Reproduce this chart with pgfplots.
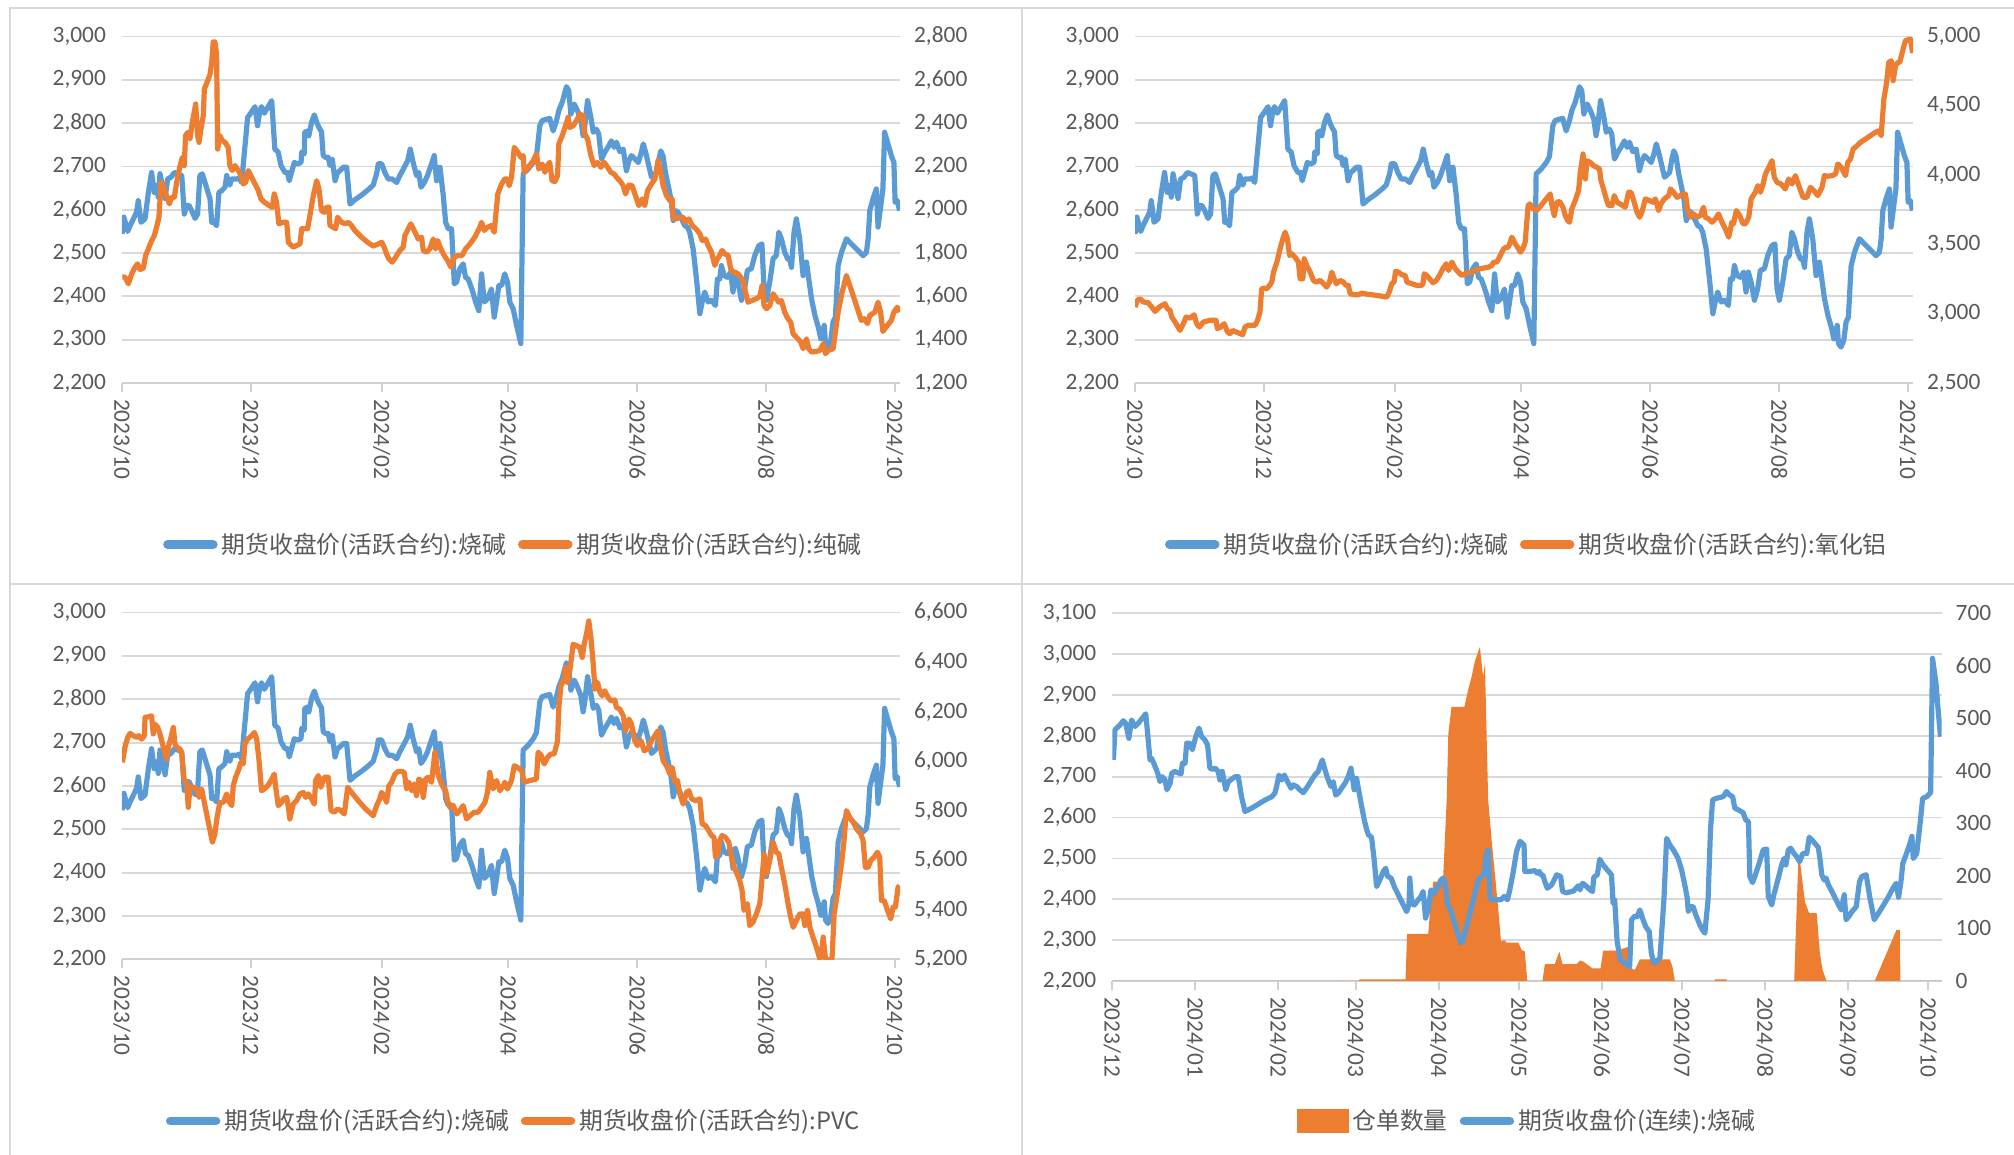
\documentclass[border=0pt]{standalone}
\usepackage{pgfplots}
\pgfplotsset{compat=1.18}
\usepackage{pgfplotstable}
\usepackage{fontspec}
\setmainfont{Carlito}
\newfontfamily\cjk{Noto Sans CJK SC}
\definecolor{cblue}{HTML}{5B9BD5}
\definecolor{corange}{HTML}{ED7D31}
\definecolor{cgrid}{HTML}{D9D9D9}
\definecolor{caxis}{HTML}{D0D0D0}
\definecolor{ctext}{HTML}{595959}
\definecolor{cframe}{HTML}{D9D9D9}
\newcommand\tickfont{\fontsize{11.7}{14}\selectfont}
\newcommand\legendfont{\cjk\fontsize{11.9}{14}\selectfont}

% caustic soda, active contract (panels 1-3)
\pgfplotstableread[row sep=\\]{
d v\\
0 2544\\ 0.9 2583\\ 2.7 2550\\ 3.8 2563\\ 5.4 2579\\ 6.9 2594\\ 7.7 2621\\ 9.0 2571\\ 10.9 2579\\ 12.5 2640\\
14.0 2686\\ 15.3 2640\\ 16.4 2656\\ 17.2 2629\\ 18.0 2683\\ 19.1 2656\\ 20.4 2626\\ 21.6 2671\\ 23.2 2675\\ 24.8 2686\\
26.4 2683\\ 28.3 2679\\ 29.5 2590\\ 30.6 2610\\ 31.7 2610\\ 33.0 2598\\ 34.6 2580\\ 35.8 2590\\ 36.9 2679\\ 38.0 2683\\
39.3 2663\\ 41.7 2625\\ 42.5 2571\\ 43.7 2571\\ 44.8 2563\\ 45.9 2640\\ 47.2 2644\\ 48.8 2652\\ 49.6 2679\\ 51.1 2657\\
51.9 2671\\ 54.3 2671\\ 55.4 2673\\ 56.7 2663\\ 57.4 2702\\ 59.5 2813\\ 61.4 2826\\ 63.0 2838\\ 64.2 2794\\ 65.3 2829\\
66.1 2838\\ 67.4 2823\\ 69.0 2836\\ 70.9 2852\\ 72.4 2740\\ 74.0 2733\\ 75.3 2702\\ 77.2 2686\\ 78.4 2686\\ 79.2 2667\\
80.3 2686\\ 81.6 2709\\ 83.2 2706\\ 84.8 2709\\ 85.1 2733\\ 86.3 2729\\ 86.6 2779\\ 87.9 2782\\ 88.5 2771\\ 89.8 2802\\
91.1 2819\\ 92.2 2802\\ 93.3 2790\\ 94.5 2780\\ 95.3 2725\\ 96.4 2721\\ 97.7 2721\\ 98.5 2702\\ 99.6 2717\\ 100.9 2667\\
102.1 2686\\ 103.2 2690\\ 104.8 2698\\ 106.4 2698\\ 108.0 2613\\ 110.3 2623\\ 113.5 2634\\ 116.6 2646\\ 119.0 2657\\ 120.6 2683\\
121.4 2706\\ 123.0 2706\\ 124.5 2686\\ 126.1 2671\\ 128.0 2671\\ 130.1 2663\\ 131.6 2679\\ 133.7 2698\\ 135.3 2713\\ 136.5 2740\\
137.9 2709\\ 139.5 2679\\ 140.6 2686\\ 141.6 2652\\ 143.2 2663\\ 144.7 2679\\ 146.3 2702\\ 147.9 2725\\ 149.0 2667\\ 150.6 2698\\
152.1 2636\\ 153.3 2571\\ 154.5 2556\\ 156.1 2556\\ 157.4 2429\\ 158.5 2433\\ 160.0 2464\\ 161.6 2475\\ 162.7 2444\\ 164.0 2440\\
165.9 2414\\ 167.5 2387\\ 169.0 2367\\ 170.3 2452\\ 171.6 2387\\ 173.1 2394\\ 175.0 2417\\ 176.3 2352\\ 177.4 2387\\ 178.5 2425\\
179.8 2425\\ 181.3 2452\\ 182.6 2433\\ 183.7 2387\\ 185.3 2371\\ 186.9 2333\\ 188.9 2291\\ 190.0 2683\\ 192.4 2694\\ 194.8 2709\\
196.3 2723\\ 197.9 2794\\ 199.0 2806\\ 201.1 2809\\ 202.6 2811\\ 204.2 2782\\ 205.8 2806\\ 206.9 2829\\ 208.5 2848\\ 210.5 2884\\
211.6 2875\\ 212.6 2821\\ 214.2 2844\\ 215.7 2829\\ 217.3 2809\\ 218.4 2771\\ 219.2 2794\\ 220.5 2852\\ 222.1 2813\\ 223.2 2779\\
224.7 2786\\ 225.8 2775\\ 227.1 2717\\ 228.7 2733\\ 230.6 2748\\ 231.8 2759\\ 233.1 2744\\ 234.2 2756\\ 235.8 2734\\ 237.4 2740\\
238.9 2690\\ 240.1 2713\\ 241.3 2725\\ 243.2 2716\\ 244.5 2709\\ 245.8 2729\\ 246.9 2752\\ 248.0 2733\\ 249.5 2702\\ 250.8 2675\\
251.7 2679\\ 253.2 2686\\ 254.3 2717\\ 255.2 2736\\ 256.3 2723\\ 257.4 2686\\ 258.7 2656\\ 260.0 2625\\ 261.1 2575\\ 262.2 2598\\
263.4 2594\\ 265.0 2579\\ 266.6 2563\\ 267.8 2560\\ 268.9 2548\\ 270.5 2510\\ 272.1 2440\\ 273.7 2360\\ 274.8 2387\\ 276.0 2410\\
277.6 2387\\ 279.2 2391\\ 281.1 2379\\ 282.0 2440\\ 283.1 2440\\ 283.9 2471\\ 285.2 2448\\ 286.7 2444\\ 288.3 2456\\ 289.4 2410\\
290.5 2456\\ 291.8 2433\\ 293.4 2391\\ 294.9 2417\\ 296.2 2460\\ 298.1 2464\\ 299.7 2494\\ 301.6 2517\\ 303.1 2521\\ 304.1 2417\\
305.2 2391\\ 306.8 2433\\ 308.4 2487\\ 309.9 2494\\ 311.1 2548\\ 312.3 2533\\ 313.9 2502\\ 315.2 2487\\ 316.4 2483\\ 317.1 2467\\
318.3 2548\\ 319.4 2579\\ 321.0 2533\\ 322.6 2448\\ 324.2 2479\\ 325.3 2440\\ 326.6 2394\\ 328.2 2356\\ 329.8 2329\\ 331.0 2302\\
332.6 2333\\ 333.2 2291\\ 334.4 2283\\ 335.7 2298\\ 336.8 2341\\ 337.9 2352\\ 339.2 2471\\ 340.8 2502\\ 343.1 2533\\ 345.5 2521\\
348.6 2506\\ 351.0 2494\\ 352.6 2502\\ 353.4 2533\\ 354.2 2598\\ 355.7 2625\\ 357.3 2648\\ 358.1 2560\\ 359.3 2606\\ 360.4 2648\\
361.2 2779\\ 362.8 2752\\ 364.4 2725\\ 365.6 2709\\ 366.2 2617\\ 367.2 2621\\ 368.3 2598\\
}\blueB

% soda ash
\pgfplotstableread[row sep=\\]{
d v\\
0.2 1689\\ 1.4 1689\\ 3.0 1658\\ 4.6 1704\\ 6.2 1735\\ 7.4 1750\\ 8.5 1724\\ 10.1 1730\\ 11.2 1789\\ 12.5 1819\\
13.7 1850\\ 15.3 1881\\ 16.4 1919\\ 17.5 1965\\ 18.5 2127\\ 19.6 2111\\ 20.4 2081\\ 21.6 2050\\ 22.4 2027\\ 23.5 2058\\
24.8 2058\\ 25.9 2127\\ 27.5 2204\\ 28.6 2242\\ 29.5 2204\\ 30.1 2342\\ 31.1 2357\\ 32.2 2327\\ 33.3 2403\\ 34.9 2488\\
35.8 2342\\ 36.5 2311\\ 37.4 2373\\ 38.5 2434\\ 39.0 2557\\ 40.6 2596\\ 41.7 2626\\ 42.5 2680\\ 43.2 2775\\ 44.0 2775\\
44.8 2719\\ 45.3 2280\\ 46.4 2342\\ 47.5 2319\\ 48.8 2311\\ 50.3 2288\\ 51.1 2204\\ 52.2 2181\\ 53.5 2204\\ 55.1 2181\\
56.3 2158\\ 57.4 2119\\ 58.6 2127\\ 59.8 2181\\ 61.4 2150\\ 63.0 2119\\ 64.6 2088\\ 65.8 2050\\ 67.4 2035\\ 69.3 2022\\
71.2 2011\\ 72.1 2073\\ 73.2 2035\\ 74.3 1935\\ 76.4 1942\\ 78.0 1942\\ 78.8 1850\\ 79.5 1842\\ 81.1 1827\\ 82.7 1835\\
84.3 1842\\ 85.1 1912\\ 86.3 1912\\ 87.9 1912\\ 89.0 1973\\ 90.6 2065\\ 92.2 2134\\ 93.3 2096\\ 94.5 1996\\ 95.8 1988\\
96.9 2012\\ 98.0 2012\\ 98.5 1927\\ 100.1 1919\\ 101.2 1912\\ 102.1 1965\\ 104.0 1942\\ 105.9 1935\\ 107.2 1942\\ 108.7 1927\\
110.3 1904\\ 113.5 1873\\ 116.3 1850\\ 119.0 1832\\ 121.4 1842\\ 123.0 1850\\ 124.2 1827\\ 125.3 1796\\ 126.4 1773\\ 128.0 1758\\
129.6 1781\\ 131.6 1812\\ 133.2 1827\\ 134.0 1881\\ 135.6 1912\\ 136.8 1935\\ 138.4 1904\\ 140.3 1865\\ 141.9 1873\\ 142.7 1812\\
144.3 1804\\ 145.8 1819\\ 147.4 1865\\ 148.5 1819\\ 149.5 1858\\ 151.0 1819\\ 152.6 1789\\ 154.2 1766\\ 155.8 1735\\ 157.4 1781\\
159.2 1789\\ 161.1 1789\\ 162.7 1819\\ 164.8 1842\\ 167.1 1873\\ 169.5 1919\\ 170.3 1942\\ 171.6 1904\\ 173.1 1919\\ 175.0 1927\\
176.3 1896\\ 178.0 2073\\ 179.8 2119\\ 181.3 2142\\ 182.6 2142\\ 183.4 2111\\ 184.5 2150\\ 185.8 2288\\ 187.3 2268\\ 188.9 2242\\
190.0 2250\\ 190.5 2173\\ 192.4 2196\\ 194.8 2227\\ 196.3 2257\\ 197.4 2188\\ 199.0 2211\\ 200.3 2173\\ 201.5 2204\\ 202.6 2219\\
203.7 2134\\ 205.0 2130\\ 206.3 2158\\ 206.9 2304\\ 208.5 2342\\ 210.1 2388\\ 211.3 2427\\ 212.1 2380\\ 213.7 2388\\ 215.3 2411\\
216.8 2442\\ 218.4 2434\\ 219.2 2350\\ 220.5 2327\\ 222.1 2250\\ 223.6 2204\\ 225.2 2219\\ 226.8 2196\\ 228.4 2219\\ 230.0 2196\\
231.5 2173\\ 233.1 2165\\ 234.2 2150\\ 235.8 2134\\ 237.4 2111\\ 238.5 2073\\ 240.1 2114\\ 241.6 2111\\ 243.2 2065\\ 244.8 2019\\
246.4 2050\\ 247.6 2019\\ 248.9 2088\\ 250.8 2119\\ 252.4 2142\\ 253.9 2227\\ 255.2 2173\\ 256.3 2111\\ 257.9 2065\\ 259.5 2042\\
260.6 2050\\ 261.1 1958\\ 262.6 1958\\ 264.2 1965\\ 265.8 1965\\ 266.9 1942\\ 268.5 1958\\ 270.1 1927\\ 272.1 1909\\ 273.7 1889\\
274.8 1858\\ 276.4 1865\\ 277.6 1835\\ 279.2 1804\\ 280.8 1743\\ 282.0 1773\\ 283.1 1789\\ 284.2 1812\\ 285.5 1796\\ 287.1 1789\\
288.3 1727\\ 289.4 1712\\ 291.8 1704\\ 294.2 1673\\ 295.3 1620\\ 296.5 1573\\ 298.4 1581\\ 300.5 1589\\ 302.1 1601\\ 303.2 1650\\
304.1 1558\\ 305.2 1543\\ 306.8 1558\\ 308.4 1612\\ 309.9 1589\\ 311.1 1573\\ 312.3 1581\\ 313.9 1527\\ 315.2 1500\\ 316.7 1481\\
317.9 1427\\ 319.4 1412\\ 321.5 1389\\ 322.6 1358\\ 324.2 1404\\ 325.3 1358\\ 326.6 1343\\ 328.9 1346\\ 330.5 1350\\ 332.1 1381\\
333.2 1335\\ 334.4 1350\\ 336.8 1358\\ 337.9 1435\\ 339.2 1527\\ 341.1 1620\\ 343.1 1696\\ 344.7 1650\\ 346.8 1589\\ 348.6 1535\\
350.2 1489\\ 351.5 1497\\ 353.1 1474\\ 354.2 1512\\ 356.6 1527\\ 358.1 1573\\ 359.3 1527\\ 360.4 1438\\ 362.5 1466\\ 364.4 1489\\
365.6 1527\\ 367.2 1550\\ 368.3 1527\\
}\sodaS

% alumina
\pgfplotstableread[row sep=\\]{
d v\\
0 3048\\ 1.1 3096\\ 2.4 3108\\ 4.0 3084\\ 6.3 3079\\ 7.9 3048\\ 9.5 3016\\ 11.5 3048\\ 14.2 3072\\ 15.3 3036\\
16.6 3024\\ 17.4 2976\\ 19.0 2940\\ 21.3 2879\\ 22.9 2928\\ 24.2 2976\\ 26.1 2968\\ 28.0 2992\\ 29.2 2928\\ 30.5 2904\\
32.4 2940\\ 35.5 2952\\ 38.4 2952\\ 39.0 2892\\ 40.6 2904\\ 42.2 2928\\ 43.8 2868\\ 45.0 2856\\ 46.3 2879\\ 47.9 2868\\
49.8 2856\\ 51.0 2848\\ 52.1 2904\\ 53.7 2916\\ 55.3 2916\\ 56.9 2916\\ 58.0 2952\\ 59.2 3012\\ 60.0 3180\\ 61.1 3184\\
62.4 3180\\ 63.7 3204\\ 64.8 3228\\ 65.6 3300\\ 67.2 3372\\ 68.7 3468\\ 70.0 3540\\ 71.1 3588\\ 72.2 3540\\ 73.2 3420\\
74.3 3432\\ 75.8 3408\\ 77.4 3372\\ 78.2 3252\\ 79.5 3252\\ 80.1 3396\\ 81.7 3336\\ 83.0 3300\\ 84.5 3240\\ 85.8 3228\\
87.7 3240\\ 89.3 3216\\ 90.8 3192\\ 92.1 3228\\ 93.2 3300\\ 94.3 3252\\ 95.3 3216\\ 97.2 3240\\ 98.7 3228\\ 100.0 3204\\
101.1 3204\\ 101.9 3144\\ 103.8 3137\\ 105.8 3137\\ 107.4 3148\\ 109.8 3141\\ 114.5 3132\\ 119.3 3120\\ 120.5 3160\\ 121.6 3216\\
122.7 3228\\ 123.4 3305\\ 124.8 3300\\ 126.4 3280\\ 128.0 3276\\ 128.8 3228\\ 131.1 3216\\ 133.5 3204\\ 135.1 3204\\ 136.3 3208\\
137.0 3288\\ 138.2 3276\\ 139.5 3252\\ 141.1 3223\\ 142.7 3240\\ 144.2 3276\\ 145.8 3324\\ 147.4 3360\\ 148.5 3312\\ 150.1 3372\\
151.7 3324\\ 153.2 3300\\ 154.8 3276\\ 156.4 3288\\ 158.0 3300\\ 159.6 3300\\ 161.1 3312\\ 163.2 3324\\ 165.1 3329\\ 167.5 3336\\
169.0 3348\\ 169.8 3372\\ 171.4 3372\\ 173.0 3420\\ 174.6 3468\\ 175.8 3480\\ 176.9 3480\\ 178.5 3552\\ 180.1 3504\\ 181.7 3468\\
182.5 3444\\ 183.7 3468\\ 184.8 3516\\ 186.2 3780\\ 187.0 3792\\ 188.6 3756\\ 190.1 3744\\ 191.7 3768\\ 193.5 3804\\ 195.4 3840\\
196.7 3864\\ 197.5 3780\\ 198.6 3708\\ 199.8 3804\\ 201.1 3809\\ 202.7 3768\\ 203.8 3708\\ 204.9 3672\\ 205.8 3660\\ 206.9 3756\\
208.5 3816\\ 210.1 3888\\ 210.9 4020\\ 212.2 4152\\ 213.3 3972\\ 214.1 4104\\ 215.6 4092\\ 217.2 4068\\ 218.8 4056\\ 220.0 4044\\
220.7 3960\\ 221.9 3900\\ 223.2 3828\\ 224.3 3780\\ 225.9 3780\\ 227.0 3852\\ 228.3 3804\\ 229.8 3792\\ 232.2 3768\\ 233.8 3876\\
234.9 3876\\ 236.2 3816\\ 237.8 3732\\ 239.0 3696\\ 240.1 3732\\ 241.7 3828\\ 243.8 3816\\ 245.3 3804\\ 246.5 3828\\ 248.0 3744\\
249.1 3792\\ 250.7 3828\\ 252.8 3852\\ 253.6 3900\\ 255.1 3876\\ 256.7 3840\\ 258.3 3852\\ 260.7 3864\\ 261.8 3744\\ 263.0 3696\\
264.6 3720\\ 266.2 3696\\ 267.8 3708\\ 269.3 3768\\ 270.1 3696\\ 271.7 3684\\ 273.3 3660\\ 274.9 3684\\ 276.4 3720\\ 278.0 3660\\
279.6 3612\\ 281.2 3552\\ 282.7 3660\\ 283.5 3648\\ 284.8 3744\\ 286.4 3708\\ 288.0 3648\\ 289.1 3648\\ 290.7 3696\\ 291.8 3828\\
293.8 3876\\ 295.0 3924\\ 296.2 3876\\ 297.5 3936\\ 298.6 4008\\ 300.2 4056\\ 301.7 4104\\ 302.8 3984\\ 304.1 3948\\ 306.0 3936\\
308.0 3900\\ 309.6 3972\\ 311.2 3936\\ 312.8 3996\\ 314.4 3924\\ 316.4 3840\\ 318.3 3840\\ 319.9 3912\\ 321.5 3888\\ 323.4 3852\\
325.4 3912\\ 326.5 3996\\ 328.1 3992\\ 330.2 3996\\ 331.8 4008\\ 332.9 4080\\ 334.5 4056\\ 336.5 3996\\ 337.6 4092\\ 338.9 4116\\
340.1 4188\\ 342.0 4212\\ 343.6 4236\\ 346.0 4260\\ 348.3 4284\\ 350.2 4304\\ 352.3 4320\\ 353.4 4284\\ 354.7 4549\\ 355.9 4657\\
357.0 4813\\ 358.2 4825\\ 359.1 4681\\ 360.2 4789\\ 361.3 4813\\ 362.2 4813\\ 363.8 4909\\ 364.9 4969\\ 366.0 4976\\ 367.3 4981\\
368.3 4880\\
}\aluA

% PVC
\pgfplotstableread[row sep=\\]{
d v\\
0.2 5995\\ 0.6 6016\\ 1.4 6056\\ 2.7 6096\\ 3.8 6112\\ 5.4 6103\\ 6.9 6096\\ 8.0 6103\\ 9.3 6089\\ 10.6 6103\\
10.9 6177\\ 12.5 6179\\ 14.0 6183\\ 14.8 6110\\ 15.6 6150\\ 16.9 6136\\ 18.0 6110\\ 18.8 6083\\ 20.0 6042\\ 21.1 6009\\
21.9 6056\\ 23.2 6096\\ 24.3 6136\\ 25.1 6069\\ 25.9 6056\\ 27.5 6049\\ 28.3 6029\\ 29.5 5922\\ 30.6 5915\\ 31.4 5814\\
32.2 5895\\ 33.8 5895\\ 35.4 5888\\ 36.5 5854\\ 37.7 5888\\ 38.5 5854\\ 40.1 5787\\ 41.7 5720\\ 42.8 5673\\ 44.0 5706\\
44.8 5760\\ 45.6 5801\\ 46.4 5834\\ 48.0 5834\\ 49.6 5868\\ 50.3 5841\\ 52.0 5821\\ 52.7 5901\\ 53.8 5935\\ 55.4 5969\\
56.3 5995\\ 57.4 5989\\ 58.2 6069\\ 59.5 6089\\ 61.4 6103\\ 62.7 6116\\ 63.8 6089\\ 64.9 6002\\ 66.1 5881\\ 67.4 5888\\
69.0 5901\\ 70.6 5922\\ 72.1 5948\\ 72.8 5895\\ 74.0 5821\\ 75.6 5834\\ 76.4 5848\\ 78.0 5854\\ 78.8 5814\\ 79.5 5767\\
81.1 5827\\ 82.7 5841\\ 84.3 5868\\ 85.9 5874\\ 87.0 5854\\ 88.2 5868\\ 89.8 5848\\ 91.1 5827\\ 91.7 5922\\ 93.0 5942\\
94.2 5895\\ 95.8 5935\\ 97.7 5935\\ 99.0 5801\\ 100.5 5794\\ 102.1 5807\\ 103.7 5801\\ 105.3 5787\\ 106.9 5895\\ 108.7 5874\\
111.9 5841\\ 115.4 5807\\ 119.0 5780\\ 120.6 5821\\ 122.1 5848\\ 122.9 5874\\ 124.2 5861\\ 125.3 5834\\ 126.4 5901\\ 127.7 5915\\
129.3 5948\\ 130.8 5959\\ 132.4 5959\\ 133.7 5955\\ 134.8 5888\\ 135.9 5915\\ 137.2 5881\\ 138.4 5908\\ 139.5 5861\\ 140.6 5928\\
141.6 5922\\ 142.7 5854\\ 143.8 5928\\ 145.0 5935\\ 146.6 5915\\ 148.2 6036\\ 149.8 5942\\ 151.0 5915\\ 152.1 5895\\ 153.3 5881\\
154.2 5841\\ 155.3 5814\\ 156.9 5821\\ 158.5 5787\\ 160.0 5801\\ 161.6 5821\\ 163.2 5767\\ 164.8 5780\\ 166.8 5794\\ 168.7 5794\\
170.3 5814\\ 171.9 5834\\ 173.1 5874\\ 174.2 5955\\ 175.8 5888\\ 177.4 5922\\ 179.0 5881\\ 180.6 5901\\ 181.3 5915\\ 182.6 5888\\
184.5 5922\\ 185.8 5982\\ 187.3 5975\\ 189.3 5962\\ 190.5 5915\\ 193.2 5922\\ 196.3 5928\\ 197.1 6036\\ 198.4 6026\\ 200.0 5989\\
201.6 6016\\ 203.1 6029\\ 204.7 6029\\ 206.3 6083\\ 206.9 6217\\ 207.9 6304\\ 209.5 6331\\ 210.1 6378\\ 211.0 6318\\ 212.1 6365\\
213.7 6472\\ 215.3 6466\\ 216.8 6459\\ 218.0 6419\\ 218.9 6472\\ 220.0 6513\\ 221.1 6566\\ 222.1 6499\\ 223.2 6392\\ 224.0 6291\\
225.2 6318\\ 226.4 6278\\ 227.4 6264\\ 228.7 6284\\ 230.3 6257\\ 231.5 6244\\ 233.4 6247\\ 234.2 6217\\ 235.8 6210\\ 237.4 6183\\
238.5 6123\\ 240.1 6170\\ 241.3 6150\\ 242.9 6083\\ 244.1 6063\\ 245.8 6083\\ 247.3 6042\\ 248.9 6049\\ 250.8 6083\\ 252.4 6103\\
253.9 6123\\ 255.2 6049\\ 256.3 6002\\ 257.9 5982\\ 259.5 5948\\ 260.6 5975\\ 261.9 5915\\ 263.1 5922\\ 264.2 5868\\ 265.8 5827\\
267.4 5874\\ 268.5 5881\\ 269.8 5848\\ 271.6 5841\\ 273.7 5848\\ 274.8 5747\\ 276.4 5740\\ 277.9 5720\\ 279.2 5700\\ 280.4 5693\\
281.1 5612\\ 282.3 5626\\ 283.1 5680\\ 284.2 5700\\ 285.8 5693\\ 287.4 5673\\ 288.7 5612\\ 289.9 5572\\ 291.0 5552\\ 292.6 5518\\
293.7 5478\\ 294.6 5398\\ 296.2 5425\\ 297.3 5337\\ 298.9 5351\\ 300.5 5384\\ 302.1 5425\\ 303.2 5532\\ 304.1 5626\\ 305.2 5545\\
306.8 5599\\ 308.4 5673\\ 309.9 5633\\ 311.1 5626\\ 312.3 5572\\ 313.9 5505\\ 315.5 5424\\ 316.7 5371\\ 317.9 5330\\ 319.4 5357\\
321.0 5384\\ 322.6 5384\\ 323.4 5337\\ 324.7 5398\\ 325.8 5330\\ 327.3 5290\\ 328.9 5250\\ 330.5 5203\\ 331.3 5223\\ 332.1 5290\\
333.2 5203\\ 335.2 5196\\ 336.3 5203\\ 337.3 5384\\ 338.8 5465\\ 340.8 5586\\ 342.0 5680\\ 343.1 5801\\ 344.7 5774\\ 346.3 5754\\
347.9 5727\\ 349.9 5707\\ 351.0 5680\\ 352.1 5572\\ 353.4 5572\\ 354.6 5599\\ 356.2 5612\\ 357.8 5633\\ 358.9 5612\\ 359.7 5438\\
361.0 5438\\ 362.6 5398\\ 364.1 5364\\ 365.2 5411\\ 366.3 5411\\ 367.6 5492\\ 368.3 5498\\
}\pvcP

% caustic soda, continuous contract (panel 4)
\pgfplotstableread[row sep=\\]{
d v\\
0.4 2741\\ 1.0 2815\\ 2.9 2827\\ 4.1 2837\\ 5.0 2831\\ 6.2 2794\\ 7.2 2839\\ 8.5 2823\\ 9.7 2831\\ 11.2 2843\\
12.5 2854\\ 13.2 2806\\ 14.1 2741\\ 14.7 2745\\ 16.0 2725\\ 17.0 2708\\ 17.8 2688\\ 18.7 2700\\ 19.7 2692\\ 20.4 2668\\
21.6 2684\\ 22.2 2708\\ 23.2 2713\\ 24.4 2710\\ 25.7 2707\\ 26.2 2733\\ 27.2 2733\\ 27.8 2782\\ 29.0 2782\\ 29.9 2766\\
31.2 2798\\ 32.4 2819\\ 33.4 2798\\ 34.6 2790\\ 35.6 2778\\ 36.5 2721\\ 37.4 2718\\ 38.4 2721\\ 39.6 2713\\ 40.2 2692\\
41.1 2713\\ 42.4 2668\\ 43.4 2688\\ 44.6 2694\\ 45.9 2700\\ 47.1 2700\\ 48.3 2651\\ 49.6 2615\\ 52.1 2623\\ 54.6 2633\\
57.1 2643\\ 59.6 2651\\ 60.8 2660\\ 61.4 2676\\ 62.3 2704\\ 63.3 2692\\ 64.3 2704\\ 65.5 2688\\ 66.8 2672\\ 67.7 2680\\
68.9 2676\\ 70.1 2668\\ 71.4 2661\\ 73.0 2676\\ 74.5 2692\\ 75.7 2704\\ 77.0 2713\\ 78.0 2733\\ 78.5 2741\\ 79.5 2717\\
80.5 2696\\ 81.7 2676\\ 82.6 2688\\ 83.5 2655\\ 84.5 2660\\ 85.7 2672\\ 87.0 2684\\ 88.2 2700\\ 89.2 2721\\ 89.7 2700\\
90.4 2668\\ 91.3 2696\\ 92.2 2664\\ 93.2 2627\\ 94.2 2594\\ 95.1 2570\\ 95.7 2558\\ 96.9 2552\\ 97.9 2496\\ 98.8 2431\\
99.7 2443\\ 101.3 2468\\ 102.2 2476\\ 102.9 2456\\ 104.2 2452\\ 105.4 2431\\ 106.9 2411\\ 108.8 2386\\ 110.0 2370\\ 110.9 2386\\
111.2 2452\\ 111.9 2390\\ 112.9 2386\\ 114.4 2399\\ 115.4 2407\\ 116.2 2419\\ 117.1 2354\\ 118.1 2374\\ 119.1 2423\\ 120.0 2411\\
120.8 2423\\ 121.8 2431\\ 122.8 2447\\ 123.7 2452\\ 124.6 2431\\ 125.3 2386\\ 126.2 2378\\ 127.4 2354\\ 129.1 2317\\ 130.3 2293\\
131.2 2301\\ 132.4 2334\\ 133.7 2366\\ 135.3 2407\\ 136.8 2447\\ 137.8 2456\\ 139.0 2460\\ 139.9 2513\\ 140.5 2521\\ 141.2 2403\\
142.0 2399\\ 143.6 2399\\ 145.3 2399\\ 146.5 2407\\ 147.7 2399\\ 148.6 2423\\ 149.9 2468\\ 151.1 2517\\ 152.4 2542\\ 153.9 2533\\
154.2 2468\\ 155.5 2468\\ 158.0 2470\\ 158.8 2464\\ 159.6 2468\\ 160.1 2460\\ 160.9 2460\\ 161.7 2443\\ 162.6 2427\\ 164.2 2435\\
166.1 2460\\ 167.6 2456\\ 168.3 2419\\ 169.8 2416\\ 172.3 2420\\ 174.2 2433\\ 174.8 2423\\ 175.8 2439\\ 176.7 2435\\ 178.6 2423\\
179.5 2419\\ 180.0 2454\\ 181.3 2460\\ 182.2 2498\\ 183.5 2484\\ 185.0 2472\\ 186.6 2460\\ 187.2 2390\\ 187.8 2399\\ 188.7 2297\\
189.9 2252\\ 191.6 2244\\ 193.4 2235\\ 194.1 2350\\ 195.3 2359\\ 196.2 2357\\ 197.2 2374\\ 198.4 2350\\ 199.4 2333\\ 200.7 2321\\
201.5 2268\\ 202.4 2244\\ 203.4 2248\\ 204.7 2256\\ 206.2 2399\\ 207.2 2549\\ 208.4 2533\\ 209.9 2519\\ 211.5 2500\\ 212.8 2472\\
214.0 2435\\ 214.9 2403\\ 215.3 2370\\ 216.1 2382\\ 217.1 2382\\ 218.1 2362\\ 219.6 2338\\ 220.6 2325\\ 221.5 2317\\ 222.7 2399\\
223.6 2570\\ 224.4 2643\\ 225.6 2647\\ 227.7 2650\\ 228.6 2653\\ 229.6 2664\\ 230.6 2656\\ 231.9 2651\\ 232.7 2623\\ 234.0 2619\\
235.8 2612\\ 236.8 2594\\ 237.8 2590\\ 238.3 2456\\ 239.3 2441\\ 240.2 2456\\ 241.8 2488\\ 243.3 2521\\ 244.6 2523\\ 245.2 2407\\
246.5 2386\\ 247.3 2411\\ 248.6 2443\\ 250.2 2484\\ 251.1 2500\\ 251.8 2484\\ 252.7 2521\\ 253.6 2525\\ 254.6 2514\\ 255.9 2504\\
256.9 2492\\ 258.1 2512\\ 259.6 2512\\ 260.5 2552\\ 262.1 2541\\ 263.9 2527\\ 264.6 2496\\ 265.2 2460\\ 266.1 2447\\ 266.8 2452\\
267.7 2435\\ 269.0 2419\\ 270.2 2403\\ 271.5 2386\\ 272.5 2374\\ 273.6 2411\\ 274.3 2350\\ 275.2 2357\\ 276.5 2370\\ 278.1 2382\\
279.3 2443\\ 280.2 2456\\ 281.8 2460\\ 283.1 2407\\ 284.8 2350\\ 286.4 2366\\ 288.3 2386\\ 290.2 2407\\ 291.8 2427\\ 293.0 2439\\
293.9 2405\\ 294.8 2443\\ 295.5 2488\\ 296.7 2509\\ 298.0 2533\\ 298.9 2554\\ 299.4 2500\\ 300.7 2512\\ 302.1 2594\\ 302.9 2647\\
304.4 2651\\ 305.9 2661\\ 306.6 2990\\ 307.9 2929\\ 308.8 2855\\ 309.6 2798\\
}\contC

% warehouse receipts
\pgfplotstableread[row sep=\\]{
d v\\
0 0\\ 91.9 0\\ 92.6 3\\ 109.6 3\\ 110.2 89.5\\ 118.1 89.5\\ 118.7 129\\ 120.0 189\\ 121.8 189\\ 123.7 200\\
125.0 345\\ 125.6 471\\ 126.8 522\\ 131.6 522\\ 133.0 554\\ 134.3 579\\ 135.5 608\\ 137.4 636\\ 138.6 579\\ 139.3 605\\
139.9 471\\ 140.5 345\\ 141.8 268\\ 143.0 205\\ 144.3 135\\ 145.3 75\\ 146.5 78\\ 147.4 73\\ 151.8 73\\ 153.0 59\\
154.2 56\\ 155.1 0\\ 160.8 0\\ 161.7 32\\ 165.4 32\\ 167.1 56\\ 168.3 32\\ 173.5 32\\ 174.8 39\\ 176.0 37\\
179.5 24\\ 182.5 24\\ 183.5 58\\ 188.5 58\\ 192.9 65\\ 194.1 24\\ 195.3 21\\ 197.2 41\\ 208.4 41\\ 209.4 27\\
210.3 0\\ 225.2 0\\ 225.3 3\\ 229.6 3\\ 229.8 0\\ 254.9 0\\ 256.5 240\\ 257.0 230\\ 258.9 151\\ 260.5 129\\
263.3 129\\ 264.5 53\\ 265.5 21\\ 267.0 0\\ 285.0 0\\ 293.1 97\\ 294.4 97\\ 294.6 0\\ 310 0\\
}\wareW

\pgfplotsset{
 every axis/.append style={scale only axis, anchor=south west, scaled ticks=false,
   tick label style={font=\tickfont, text=ctext},
   /pgf/number format/assume math mode=true,
   /pgf/number format/1000 sep={,}},
 leftax/.style={
   axis x line*=bottom, axis y line*=left,
   y axis line style={draw=none},
   x axis line style={draw=caxis, line width=1pt},
   ymajorgrids, grid style={draw=cgrid, line width=0.9pt},
   ytick style={draw=none},
   xtick style={draw=caxis, line width=1pt},
   tick align=outside, major tick length=4.5pt,
   xticklabel style={rotate=-90, anchor=west},
   yticklabel style={xshift=0pt},
 },
 rightax/.style={
   axis y line*=right, axis x line=none,
   y axis line style={draw=none}, ytick style={draw=none},
   yticklabel style={xshift=3.5pt},
   legend style={draw=none, fill=none, legend columns=2, font=\legendfont, text=ctext,
     /tikz/every even column/.append style={column sep=4pt}},
   legend cell align=left,
   legend image code/.code={\draw[line width=4.2pt, line cap=round] (2pt,0pt) -- (25pt,0pt);},
 },
 datesA/.style={xmin=0, xmax=368.5, xtick={0,61,123,183,244,305,366},
   xticklabels={2023/10,2023/12,2024/02,2024/04,2024/06,2024/08,2024/10}},
 datesB/.style={xmin=0, xmax=310, xtick={0,31,62,91,122,152,183,213,244,275,305},
   xticklabels={2023/12,2024/01,2024/02,2024/03,2024/04,2024/05,2024/06,2024/07,2024/08,2024/09,2024/10}},
 blueline/.style={draw=cblue, line width=2.6pt, line join=round, mark=none},
 orangeline/.style={draw=corange, line width=2.6pt, line join=round, mark=none},
}

\begin{document}
\begin{tikzpicture}
\path[use as bounding box] (0pt,0pt) rectangle (1007pt,577.5pt);
\draw[cframe, line width=1.2pt] (5pt,0pt) -- (5pt,573.5pt) -- (1007pt,573.5pt);
\draw[cframe, line width=1.2pt] (511pt,0pt) -- (511pt,573.5pt);
\draw[cframe, line width=1.2pt] (5pt,285.5pt) -- (1007pt,285.5pt);

% ---------- Panel 1 ----------
\begin{axis}[leftax, datesA, at={(61pt,386pt)}, width=389pt, height=173.25pt,
  ymin=2200, ymax=3000, ytick distance=100]
\addplot[blueline] table[x=d,y=v] {\blueB};
\end{axis}
\begin{axis}[rightax, datesA, at={(61pt,386pt)}, width=389pt, height=173.25pt,
  ymin=1200, ymax=2800, ytick distance=200,
  legend style={at={(0.504,-0.466)}, anchor=center}]
\addlegendimage{blueline}
\addlegendentry{期货收盘价(活跃合约):烧碱}
\addplot[orangeline] table[x=d,y=v] {\sodaS};
\addlegendentry{期货收盘价(活跃合约):纯碱}
\end{axis}

% ---------- Panel 2 ----------
\begin{axis}[leftax, datesA, at={(567.5pt,386pt)}, width=389pt, height=173.25pt,
  ymin=2200, ymax=3000, ytick distance=100]
\addplot[blueline] table[x=d,y=v] {\blueB};
\end{axis}
\begin{axis}[rightax, datesA, at={(567.5pt,386pt)}, width=389pt, height=173.25pt,
  ymin=2500, ymax=5000, ytick distance=500,
  legend style={at={(0.505,-0.466)}, anchor=center}]
\addlegendimage{blueline}
\addlegendentry{期货收盘价(活跃合约):烧碱}
\addplot[orangeline] table[x=d,y=v] {\aluA};
\addlegendentry{期货收盘价(活跃合约):氧化铝}
\end{axis}

% ---------- Panel 3 ----------
\begin{axis}[leftax, datesA, at={(61pt,97.75pt)}, width=389pt, height=173.5pt,
  ymin=2200, ymax=3000, ytick distance=100]
\addplot[blueline] table[x=d,y=v] {\blueB};
\end{axis}
\begin{axis}[rightax, datesA, at={(61pt,97.75pt)}, width=389pt, height=173.5pt,
  ymin=5200, ymax=6600, ytick distance=200,
  legend style={at={(0.505,-0.465)}, anchor=center}]
\addlegendimage{blueline}
\addlegendentry{期货收盘价(活跃合约):烧碱}
\addplot[orangeline] table[x=d,y=v] {\pvcP};
\addlegendentry{期货收盘价(活跃合约):PVC}
\end{axis}

% ---------- Panel 4 ----------
\begin{axis}[leftax, datesB, at={(556.15pt,87pt)}, width=414.65pt, height=183.85pt,
  ymin=2200, ymax=3100, ytick distance=100]
\end{axis}
\begin{axis}[rightax, datesB, at={(556.15pt,87pt)}, width=414.65pt, height=183.85pt,
  ymin=0, ymax=700, ytick distance=100,
  legend style={at={(0.501,-0.381)}, anchor=center}]
\addplot[fill=corange, draw=none,
  legend image code/.code={\fill[corange] (0pt,-5.8pt) rectangle (26pt,5.8pt);}]
  table[x=d,y=v] {\wareW} \closedcycle;
\addlegendentry{仓单数量}
\addlegendimage{blueline}
\addlegendentry{期货收盘价(连续):烧碱}
\end{axis}
\begin{axis}[hide axis, datesB, at={(556.15pt,87pt)}, width=414.65pt, height=183.85pt,
  ymin=2200, ymax=3100]
\addplot[blueline] table[x=d,y=v] {\contC};
\end{axis}
\end{tikzpicture}
\end{document}
